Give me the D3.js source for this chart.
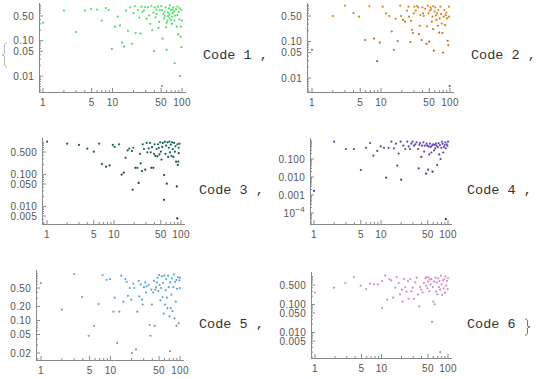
<!DOCTYPE html>
<html>
<head>
<meta charset="utf-8">
<script src="https://cdnjs.cloudflare.com/ajax/libs/d3/7.8.5/d3.min.js"></script>
<style>
  body { margin: 0; background: #fff; }
  svg { display: block; }
  .tick-label { font-family: "Liberation Sans", Arial, sans-serif; font-size: 10px; letter-spacing: 0.3px; fill: #555; }
  .code { font-family: "Liberation Mono", "Courier New", monospace; font-size: 13.5px; fill: #333; }
</style>
</head>
<body>
<div id="chart"></div>
<script>
// ---- data ----
const codeNames = ["Code 1", "Code 2", "Code 3", "Code 4", "Code 5", "Code 6"];
const xTicks = [1, 5, 10, 50, 100];

const yTicks1 = [0.01, 0.05, 0.1, 0.5];
const yLabels1 = ["0.01", "0.05", "0.10", "0.50"];
const yTicks3 = [0.005, 0.01, 0.05, 0.1, 0.5];
const yLabels3 = ["0.005", "0.010", "0.050", "0.100", "0.500"];
const yTicks4 = [0.0001, 0.001, 0.01, 0.1];
const yLabels4 = ["10^-4", "0.001", "0.010", "0.100"];
const yTicks5 = [0.02, 0.05, 0.1, 0.2, 0.5];
const yLabels5 = ["0.02", "0.05", "0.10", "0.20", "0.50"];

const code1 = [
  [1,0.32],[2,0.71],[3,0.176],[4,0.71],[4.9,0.79],[6,0.76],[7,0.37],[8,0.84],[8.8,0.74],[9.8,0.058],
  [10.9,0.25],[11.9,0.48],[12.8,0.27],[13.7,0.088],[14.6,0.068],[15.6,0.71],[16.7,0.19],[17.8,0.88],[19,0.082],[20,0.6],
  [21,0.94],[21.5,0.165],[23.3,0.74],[24.3,0.45],[25.4,0.16],[26,0.92],[27,0.65],[28.3,0.71],[29.5,0.9],[31,0.42],
  [32.4,0.88],[33.8,0.52],[35,0.3],[36.3,0.96],[37.3,0.2],[38.8,0.62],[39.6,0.051],[40.4,0.88],[41.7,0.46],[43.1,0.57],
  [43,0.76],[45,0.92],[46,0.23],[47,0.34],[48,0.74],[50.4,0.96],[51.5,0.74],[52.6,0.114],[51.5,0.0052],[54,0.57],
  [55,0.43],[56,0.66],[57,0.5],[58,0.88],[59,0.24],[60,0.055],[60,0.32],[61.5,0.37],[63,0.62],[63,0.5],
  [64.5,0.82],[66,0.55],[66,0.43],[67,1.0],[69,0.74],[70,0.385],[72,0.3],[72,0.48],[73,0.76],[73.5,0.6],
  [75,0.88],[77,0.68],[78,0.37],[78.5,0.023],[80,0.51],[82,0.78],[84,0.25],[86,0.92],[86,0.53],[88,0.15],
  [90,0.65],[92,0.4],[93,0.82],[94,0.01],[96,0.13],[96,0.25],[98,0.74],[98,0.066],[100,0.37]
];

const code2 = [
  [1,0.059],[2,0.5],[3,0.96],[4,0.6],[4.8,0.48],[5.9,0.11],[6.8,0.92],[7.9,0.12],[8.8,0.029],[9.6,0.093],
  [10.6,0.9],[11.8,0.59],[13.2,0.5],[14.3,0.19],[15.3,0.059],[16.3,0.42],[17.5,0.103],[19,0.96],[19.5,0.5],[20.8,0.39],
  [22.3,0.35],[23.8,0.7],[25,0.9],[25.5,0.48],[26.7,0.097],[27.3,0.37],[28.2,0.21],[29.1,0.17],[29.8,0.59],[30.4,0.9],
  [31.8,0.7],[33.2,0.94],[34.7,0.86],[35.5,0.16],[36.3,0.27],[37.2,0.53],[38.9,0.11],[39.8,0.86],[40.7,0.59],[41.7,0.5],
  [43.6,0.79],[45.6,0.086],[46.6,0.26],[47.6,0.96],[48.7,0.59],[49.8,0.099],[51,0.7],[52.1,0.86],[53.3,0.76],[54.6,0.35],
  [55.8,0.48],[57,0.94],[57,0.22],[58.3,0.056],[59.6,0.66],[61,0.86],[62.3,0.52],[63.7,0.39],[65,0.59],[66.6,0.27],
  [68,0.73],[69.5,0.175],[71,0.43],[72.6,0.9],[74.2,0.57],[75.9,0.31],[77.6,0.17],[79.3,0.05],[81,0.48],[82.8,0.73],
  [84.7,0.28],[86.5,0.53],[88.5,0.62],[90.5,0.43],[92.5,0.105],[94.5,0.079],[96.6,0.9],[96.6,0.48],[98.8,0.006]
];

const code3 = [
  [1,1.05],[2,0.91],[3,0.83],[4,0.635],[5,0.51],[6,0.91],[6.6,0.21],[7.6,0.174],[8.6,0.19],[9.6,0.83],
  [10.2,0.72],[11.9,0.87],[13,0.098],[14,0.113],[14.9,0.33],[16,0.56],[16.9,0.64],[18.5,0.54],[19.4,0.68],[19,0.033],
  [20.8,0.16],[22.3,0.16],[23.3,0.054],[24.4,0.44],[25,0.22],[26.2,0.127],[26.8,0.87],[28,0.62],[29.3,0.14],[30.8,0.96],
  [31.5,0.49],[33,0.65],[34.5,0.96],[35.3,0.49],[36,0.16],[36.9,0.71],[38.6,0.16],[39.5,0.44],[40.4,0.87],[41.4,0.38],
  [43.3,0.62],[44.4,0.37],[45.5,0.87],[46.6,0.68],[47.7,0.42],[48.8,1.0],[50,0.51],[51.2,0.29],[52.4,0.72],[53.6,0.96],
  [56,0.095],[56,0.016],[57.3,1.05],[58.6,0.44],[60,0.79],[61.4,0.051],[62.8,1.0],[64.3,0.35],[65.8,0.68],[67.3,1.05],
  [68.8,0.49],[70.4,0.85],[72,0.38],[73.7,1.0],[75.4,0.62],[77,0.35],[79,0.96],[80.8,0.51],[82.6,0.75],[84.5,0.25],
  [86.5,0.042],[88.4,0.87],[89.5,0.197],[91.5,0.25],[92.5,0.46],[92.5,0.68],[88,0.0042],[94.7,0.91]
];

const code4 = [
  [1,0.0017],[2,0.92],[3,0.36],[3.95,0.36],[5,0.0245],[5.97,0.42],[6.9,0.77],[7.7,0.153],[8.8,0.28],[9.9,0.5],
  [11.1,0.42],[11.9,0.0092],[13,0.42],[14.3,0.92],[15.6,0.39],[16.7,0.71],[17.5,0.043],[18.3,0.2],[19.6,0.92],[20,0.0071],
  [21.5,0.55],[23,0.36],[24.7,0.92],[25.9,0.5],[27,0.36],[28.3,0.71],[29.6,0.92],[31,0.55],[32.5,0.65],[34,0.84],
  [35.7,0.36],[36.5,0.03],[37.4,0.6],[38.2,0.77],[40,0.13],[41,0.55],[43,0.84],[44,0.26],[45,0.55],[47,0.0153],
  [48,0.71],[49,0.55],[50.5,0.0256],[51.5,0.5],[52.6,0.18],[53.8,0.71],[55,0.46],[56.4,0.23],[57.6,0.55],[58.8,0.0198],
  [60,0.65],[62,0.3],[63,0.6],[64.5,0.39],[66,0.71],[67.5,0.55],[69,0.046],[70.5,0.46],[72.3,0.77],[74,0.18],
  [75.7,0.6],[77.5,0.1],[79.3,0.42],[81,0.92],[83,0.71],[85,0.23],[87,0.46],[89,0.6],[91,0.84],[93,0.000046],
  [93,0.39],[95.5,0.65],[98,0.55],[100,0.92]
];

const code5 = [
  [1,0.64],[2,0.171],[3,1.0],[3.9,0.32],[4.85,0.047],[5.8,0.077],[6.75,0.226],[7.7,0.95],[8.8,0.75],[9.8,0.78],
  [11,0.155],[11.5,0.31],[12.5,0.033],[13.4,0.155],[14.3,0.92],[15.3,0.254],[16.4,0.78],[17.1,0.68],[17.8,0.34],[19,0.5],
  [19.9,0.28],[20.3,0.02],[21.3,0.62],[22,0.5],[23.3,0.024],[24.3,0.155],[25.4,0.71],[26,0.33],[27.2,0.6],[28.4,0.28],
  [29,0.22],[30.3,0.52],[31.7,0.66],[32.4,0.4],[33.1,0.54],[35.4,0.58],[36.8,0.08],[37.6,0.047],[38.5,0.46],[39.4,0.22],
  [41.2,0.4],[42.2,0.71],[43.2,0.077],[44.3,0.46],[45.4,0.52],[46.4,0.66],[47.6,0.83],[48.8,0.43],[50,0.95],[51,0.58],
  [52.2,0.27],[53.5,0.5],[54.7,0.89],[56,0.32],[57,0.64],[58.2,0.14],[59.5,0.92],[60.8,0.22],[62,0.45],[63.3,0.78],
  [64.7,0.31],[66,0.184],[67.5,0.92],[69,0.52],[70.5,0.123],[72,0.022],[72,0.66],[73.6,0.184],[75,0.36],[76.7,0.8],
  [78,0.16],[80,0.52],[81.5,0.98],[83,0.111],[85,0.68],[87,0.254],[89,0.75],[89,0.077],[91,0.48],[93.5,0.86],
  [95.5,0.088],[98,0.73],[100,0.83],[100,0.5]
];

const code6 = [
  [1,0.27],[1.93,0.4],[2.86,0.59],[3.85,0.96],[4.85,0.47],[5.85,0.36],[6.7,0.56],[7.7,0.53],[8.8,0.53],[10.2,0.077],
  [10.2,0.69],[11.4,1.08],[12.2,0.15],[13.1,0.82],[14,0.73],[15,0.177],[16.1,0.4],[16.9,0.96],[18.1,0.59],[19,0.23],
  [20.3,0.34],[20.8,0.127],[21.7,0.82],[22.7,0.42],[23.8,0.29],[25,0.69],[25.6,0.16],[27,0.82],[28.2,0.3],[29.5,0.4],
  [30.8,0.16],[32.2,0.62],[33.8,0.91],[35.3,0.23],[37,0.086],[37.9,0.42],[39.7,0.34],[41.6,0.27],[43.5,0.59],[45.6,0.87],
  [46.7,0.47],[47.8,0.96],[48.9,0.38],[50,0.66],[51.2,0.91],[52.4,0.3],[53.6,0.77],[55,0.53],[56.2,0.82],[57.5,0.024],
  [58.9,0.42],[60.3,0.127],[61.7,0.66],[63.2,0.102],[64.7,0.91],[66.2,0.29],[67.8,0.62],[69.4,0.23],[71.1,0.87],[72.8,0.42],
  [74.6,0.69],[76.4,0.002],[76.4,0.34],[78.2,1.08],[80,0.53],[82,0.22],[84,0.73],[86,0.38],[88,0.82],[90,0.26],
  [92,1.0],[94,0.47],[96.5,0.69],[98.8,0.36],[100,0.87]
];

// ---- layout ----
const width = 539, height = 379;
const svg = d3.select("#chart").append("svg")
  .attr("width", width)
  .attr("height", height);

const panels = [
  { pts: code1, yt: yTicks1, yl: yLabels1, xr: [43, 182], xa: [39, 186], yd: [0.5, 0.01], yr: [16, 76], ya: [3, 92],
    lo: "#7f9a8c", hi: "#45ea62", label: [203, 59] },
  { pts: code2, yt: yTicks1, yl: yLabels1, xr: [312, 450], xa: [307, 454], yd: [0.5, 0.01], yr: [16, 78], ya: [3, 92],
    lo: "#9a4a3c", hi: "#e08a24", label: [471, 59] },
  { pts: code3, yt: yTicks3, yl: yLabels3, xr: [47, 181], xa: [42, 185], yd: [0.5, 0.005], yr: [152, 216], ya: [138, 224],
    lo: "#222222", hi: "#1a6b48", label: [199, 194] },
  { pts: code4, yt: yTicks4, yl: yLabels4, xr: [314, 448], xa: [310, 452], yd: [0.1, 0.0001], yr: [159, 213], ya: [138, 224],
    lo: "#2c2c3c", hi: "#6a48b4", label: [467, 194] },
  { pts: code5, yt: yTicks5, yl: yLabels5, xr: [41, 180], xa: [36, 184], yd: [0.5, 0.02], yr: [288, 353], ya: [270, 360],
    lo: "#8a929a", hi: "#58aae4", label: [199, 328] },
  { pts: code6, yt: yTicks3, yl: yLabels3, xr: [315, 448], xa: [311, 452], yd: [0.5, 0.005], yr: [285, 341], ya: [272, 358],
    lo: "#a09ca0", hi: "#da8cca", label: [467, 328] }
];

function minorTicks(lo, hi, major) {
  const out = [];
  for (let e = Math.floor(Math.log10(lo)) - 1; e <= Math.ceil(Math.log10(hi)); e++) {
    for (let m = 1; m <= 9; m++) {
      const v = m * Math.pow(10, e);
      if (v >= lo && v <= hi && !major.some(t => Math.abs(t - v) / v < 1e-6)) out.push(v);
    }
  }
  return out;
}

panels.forEach((p, i) => {
  const g = svg.append("g");
  const x = d3.scaleLog().domain([1, 100]).range(p.xr);
  const y = d3.scaleLog().domain(p.yd).range(p.yr);
  const left = p.xa[0], bottom = p.ya[1];

  // axes lines
  g.append("line").attr("x1", left).attr("x2", p.xa[1]).attr("y1", bottom + 0.5).attr("y2", bottom + 0.5)
    .attr("stroke", "#8a8a8a").attr("stroke-width", 1);
  g.append("line").attr("x1", left + 0.5).attr("x2", left + 0.5).attr("y1", p.ya[0]).attr("y2", bottom)
    .attr("stroke", "#8a8a8a").attr("stroke-width", 1);

  // x ticks
  const xLo = x.invert(p.xa[0]), xHi = x.invert(p.xa[1]);
  g.selectAll(".xmin").data(minorTicks(xLo, xHi, xTicks)).enter().append("line")
    .attr("x1", d => x(d)).attr("x2", d => x(d)).attr("y1", bottom).attr("y2", bottom - 2)
    .attr("stroke", "#8a8a8a");
  g.selectAll(".xmaj").data(xTicks).enter().append("line")
    .attr("x1", d => x(d)).attr("x2", d => x(d)).attr("y1", bottom).attr("y2", bottom - 4)
    .attr("stroke", "#8a8a8a");
  g.selectAll(".xlab").data(xTicks).enter().append("text")
    .attr("class", "tick-label")
    .attr("x", d => x(d)).attr("y", bottom + 14)
    .attr("text-anchor", "middle")
    .text(d => d);

  // y ticks
  const yLo = y.invert(p.ya[1]), yHi = y.invert(p.ya[0]);
  g.selectAll(".ymin").data(minorTicks(yLo, yHi, p.yt)).enter().append("line")
    .attr("x1", left).attr("x2", left + 2).attr("y1", d => y(d)).attr("y2", d => y(d))
    .attr("stroke", "#8a8a8a");
  g.selectAll(".ymaj").data(p.yt).enter().append("line")
    .attr("x1", left).attr("x2", left + 4).attr("y1", d => y(d)).attr("y2", d => y(d))
    .attr("stroke", "#8a8a8a");
  p.yt.forEach((t, k) => {
    const lab = p.yl[k];
    const txt = g.append("text").attr("class", "tick-label")
      .attr("x", left - 5).attr("y", y(t) + 3.5)
      .attr("text-anchor", "end");
    if (lab.includes("^")) {
      const [b, ex] = lab.split("^");
      txt.append("tspan").text(b);
      txt.append("tspan").attr("dy", -5).attr("font-size", "8px").text(ex.replace("-", "\u2212"));
    } else {
      txt.text(lab);
    }
  });

  // points
  const ext = d3.extent(p.pts, d => d[1]);
  const col = d3.scaleLog().domain([ext[0], ext[1]]).range([p.lo, p.hi])
    .interpolate(d3.interpolateRgb);
  g.selectAll("circle").data(p.pts).enter().append("circle")
    .attr("cx", d => x(d[0]))
    .attr("cy", d => y(d[1]))
    .attr("r", 1.1)
    .attr("fill", d => col(d[1]));

  // code label
  svg.append("text").attr("class", "code")
    .attr("x", p.label[0]).attr("y", p.label[1])
    .attr("xml:space", "preserve")
    .text(i === 5 ? codeNames[i] : codeNames[i] + " ,");
});

// list braces
svg.append("path")
  .attr("d", "M7,43 C4,43 4.5,46 4.5,50 L4.5,52 C4.5,54.5 3.5,55 2,55 C3.5,55 4.5,55.5 4.5,58 L4.5,60 C4.5,64 4,67 7,67")
  .attr("fill", "none").attr("stroke", "#8fa898").attr("stroke-width", 0.8);
svg.append("path")
  .attr("d", "M525,319 C528,319 527.5,321 527.5,324 L527.5,325 C527.5,326.5 528.5,327 530,327 C528.5,327 527.5,327.5 527.5,329 L527.5,330 C527.5,333 528,335 525,335")
  .attr("fill", "none").attr("stroke", "#444").attr("stroke-width", 0.8);
</script>
</body>
</html>
